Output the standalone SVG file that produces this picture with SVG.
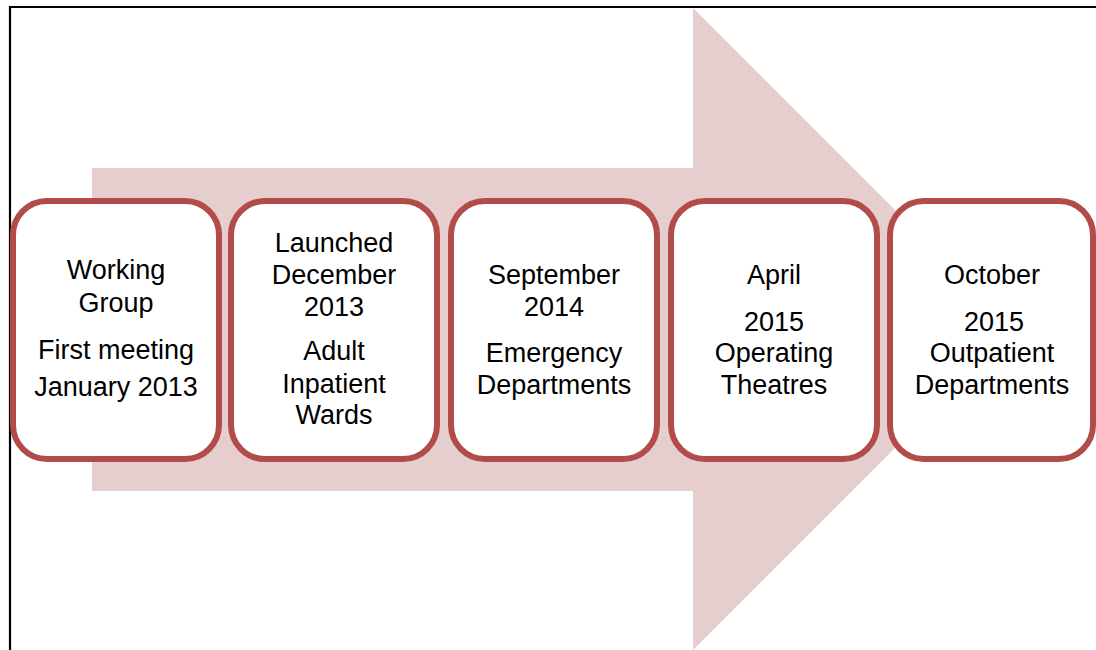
<svg xmlns="http://www.w3.org/2000/svg" width="1096" height="650" viewBox="0 0 1096 650">
<style>
.frame{stroke:#000;stroke-width:2.2;fill:none}
.box{fill:#fff;stroke:#B14C4A;stroke-width:6}
.t{font-family:"Liberation Sans",Arial,sans-serif;font-size:27px;fill:#000;text-anchor:middle}
</style>
<rect width="1096" height="650" fill="#fff"/>
<g id="arrow">
<polygon points="92,168 693,168 693,8 1014,329 693,650 693,491 92,491" fill="#E7CECE"/>
</g>
<g id="frame">
<line class="frame" x1="9" y1="7" x2="1096" y2="7"/>
<line class="frame" x1="10" y1="6" x2="10" y2="650"/>
</g>
<g id="connectors"></g>
<g id="node1">
<rect class="box" x="13" y="201" width="206" height="258" rx="34" ry="34"/>
<text class="t" x="116" y="279">Working</text>
<text class="t" x="116" y="312">Group</text>
<text class="t" x="116" y="359">First meeting</text>
<text class="t" x="116" y="396">January 2013</text>
</g>
<g id="node2">
<rect class="box" x="231" y="201" width="206" height="258" rx="34" ry="34"/>
<text class="t" x="334" y="252">Launched</text>
<text class="t" x="334" y="284">December</text>
<text class="t" x="334" y="316">2013</text>
<text class="t" x="334" y="360">Adult</text>
<text class="t" x="334" y="393">Inpatient</text>
<text class="t" x="334" y="424">Wards</text>
</g>
<g id="node3">
<rect class="box" x="451" y="201" width="206" height="258" rx="34" ry="34"/>
<text class="t" x="554" y="284">September</text>
<text class="t" x="554" y="316">2014</text>
<text class="t" x="554" y="362">Emergency</text>
<text class="t" x="554" y="394">Departments</text>
</g>
<g id="node4">
<rect class="box" x="671" y="201" width="206" height="258" rx="34" ry="34"/>
<text class="t" x="774" y="284">April</text>
<text class="t" x="774" y="331">2015</text>
<text class="t" x="774" y="362">Operating</text>
<text class="t" x="774" y="394">Theatres</text>
</g>
<g id="node5">
<rect class="box" x="890" y="201" width="203" height="258" rx="34" ry="34"/>
<text class="t" x="992" y="284">October</text>
<text class="t" x="994" y="331">2015</text>
<text class="t" x="992" y="362">Outpatient</text>
<text class="t" x="992" y="394">Departments</text>
</g>
</svg>
